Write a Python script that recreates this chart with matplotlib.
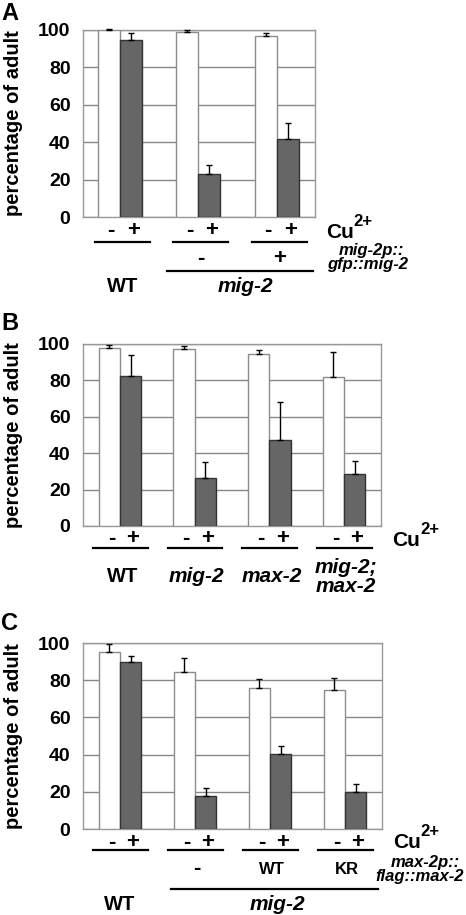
import numpy as np
import matplotlib
matplotlib.use('Agg')
import matplotlib.pyplot as plt

plt.rcParams['font.family'] = ['Liberation Sans', 'DejaVu Sans']
plt.rcParams['font.weight'] = 'bold'

# ---- data ----
# panel A: WT, mig-2 (no transgene), mig-2 + mig-2p::gfp::mig-2
a_minus = [100, 99, 97]
a_minus_err = [0.5, 1, 1.5]
a_plus = [94.5, 23, 41.5]
a_plus_err = [3.7, 5, 9]

# panel B: WT, mig-2, max-2, mig-2;max-2
b_labels = ['WT', 'mig-2', 'max-2', 'mig-2;\nmax-2']
b_italic = [False, True, True, True]
b_minus = [98, 97.5, 94.5, 82]
b_minus_err = [1.3, 1.5, 2.4, 13.8]
b_plus = [82.5, 26.5, 47.3, 28.6]
b_plus_err = [11.5, 8.6, 20.6, 7.2]

# panel C: WT, mig-2 + max-2p::flag::max-2 (none / WT / KR)
c_rescue = ['-', 'WT', 'KR']
c_minus = [95.3, 84.2, 75.9, 75]
c_minus_err = [4.3, 7.9, 4.5, 6.3]
c_plus = [90, 18, 40.2, 20]
c_plus_err = [2.9, 4, 4.3, 4]

W, H, DPI = 466, 915, 100
fig = plt.figure(figsize=(W / DPI, H / DPI), dpi=DPI)

WHITE_EDGE = '#8c8c8c'
GRAY = '#666666'
SIGN = 16


def px_axes(left, top, right, bottom):
    return [left / W, (H - bottom) / H, (right - left) / W, (bottom - top) / H]


def below(ax, px):
    # pixel offset below the axes -> axes fraction
    return -px / (ax.get_position().height * H)


def panel(rect, minus, minus_err, plus, plus_err, width, xlim):
    ax = fig.add_axes(px_axes(*rect))
    x = np.arange(len(minus))
    ax.bar(x - width / 2, minus, width, color='white', edgecolor=WHITE_EDGE, lw=1, zorder=3)
    ax.bar(x + width / 2, plus, width, color=GRAY, edgecolor='#333333', lw=1, zorder=3)
    ax.errorbar(x - width / 2, minus, yerr=[np.zeros(len(x)), minus_err], fmt='none',
                ecolor='black', elinewidth=1, capsize=2.5, capthick=1, zorder=4, clip_on=False)
    ax.errorbar(x + width / 2, plus, yerr=[np.zeros(len(x)), plus_err], fmt='none',
                ecolor='black', elinewidth=1, capsize=2.5, capthick=1, zorder=4, clip_on=False)
    ax.set_ylim(0, 100)
    ax.set_xlim(*xlim)
    ax.set_yticks([0, 20, 40, 60, 80, 100])
    ax.tick_params(axis='y', length=0, pad=9, labelsize=14)
    ax.set_xticks([])
    ax.yaxis.grid(True, color='#888888', lw=1)
    ax.set_axisbelow(True)
    for s in ax.spines.values():
        s.set_color('#999999')
        s.set_linewidth(1)
    ax.set_ylabel('percentage of adult', fontsize=14.5, fontweight='bold')
    ax.yaxis.set_label_coords(-60 / (rect[2] - rect[0]), 0.5)
    tr = ax.get_xaxis_transform()
    for xi in x:
        ax.text(xi - width / 2 + 0.03, below(ax, 13), '-', transform=tr, ha='center', va='center', fontsize=SIGN)
        ax.text(xi + width / 2 + 0.03, below(ax, 13), '+', transform=tr, ha='center', va='center', fontsize=SIGN)
    return ax, x, tr


def group_lines(ax, x, tr, px, lo, hi):
    for xi in x:
        ax.plot([xi + lo, xi + hi], [below(ax, px)] * 2, color='black', lw=1.6,
                transform=tr, clip_on=False)


def cu(ax, rect, px):
    t = ax.text(1 + 11 / (rect[2] - rect[0]), below(ax, px), 'Cu', transform=ax.transAxes,
                ha='left', va='center', fontsize=15)
    ax.annotate('2+', xy=(1, 0.5), xycoords=t, xytext=(0, 11), textcoords='offset pixels',
                ha='left', va='center', fontsize=12)


# ---------- A ----------
rectA = (83, 30, 315, 217)
axA, xA, trA = panel(rectA, a_minus, a_minus_err, a_plus, a_plus_err, 0.28, (-0.47, 2.485))
group_lines(axA, xA, trA, 25, -0.32, 0.38)
cu(axA, rectA, 15)
for xi, s in zip(xA[1:], ['-', '+']):
    axA.text(xi + 0.03, below(axA, 41), s, transform=trA, ha='center', va='center', fontsize=SIGN)
axA.plot([xA[1] - 0.4, xA[2] + 0.46], [below(axA, 54)] * 2, color='black', lw=1.6,
         transform=trA, clip_on=False)
axA.text(1 + 56 / 232, below(axA, 33), 'mig-2p::', transform=axA.transAxes, ha='center',
         va='center', fontsize=12, style='italic')
axA.text(1 + 53 / 232, below(axA, 48), 'gfp::mig-2', transform=axA.transAxes, ha='center',
         va='center', fontsize=12, style='italic')
axA.text(xA[0] + 0.04, below(axA, 70), 'WT', transform=trA, ha='center', va='center', fontsize=14.5)
axA.text((xA[1] + xA[2]) / 2 + 0.1, below(axA, 69), 'mig-2', transform=trA, ha='center',
         va='center', fontsize=15, style='italic')

# ---------- B ----------
rectB = (83, 344, 381, 526)
axB, xB, trB = panel(rectB, b_minus, b_minus_err, b_plus, b_plus_err, 0.285, (-0.495, 3.495))
group_lines(axB, xB, trB, 22, -0.36, 0.37)
cu(axB, rectB, 14)
for xi, lab, it in zip(xB, b_labels, b_italic):
    axB.text(xi + 0.03, below(axB, 51), lab, transform=trB, ha='center', va='center',
             fontsize=15 if it else 14.5, style='italic' if it else 'normal', linespacing=0.95)

# ---------- C ----------
rectC = (83, 643, 382, 829)
axC, xC, trC = panel(rectC, c_minus, c_minus_err, c_plus, c_plus_err, 0.285, (-0.495, 3.495))
group_lines(axC, xC, trC, 21, -0.36, 0.37)
cu(axC, rectC, 13)
for xi, s in zip(xC[1:], c_rescue):
    axC.text(xi + 0.03, below(axC, 40), s, transform=trC, ha='center', va='center',
             fontsize=SIGN if s == '-' else 12)
axC.plot([xC[1] - 0.32, xC[3] + 0.44], [below(axC, 60)] * 2, color='black', lw=1.6,
         transform=trC, clip_on=False)
axC.text(1 + 43 / 299, below(axC, 33), 'max-2p::', transform=axC.transAxes, ha='center',
         va='center', fontsize=12, style='italic')
axC.text(1 + 38 / 299, below(axC, 48), 'flag::max-2', transform=axC.transAxes, ha='center',
         va='center', fontsize=12, style='italic')
axC.text(xC[0] + 0.0, below(axC, 75), 'WT', transform=trC, ha='center', va='center', fontsize=14.5)
axC.text((xC[1] + xC[3]) / 2 + 0.1, below(axC, 75), 'mig-2', transform=trC, ha='center',
         va='center', fontsize=15, style='italic')

# panel letters
for lab, ypx in [('A', 13), ('B', 323), ('C', 623)]:
    fig.text(1 / W, 1 - ypx / H, lab, ha='left', va='center', fontsize=17, fontweight='bold')

fig.savefig('out.png', dpi=DPI)
